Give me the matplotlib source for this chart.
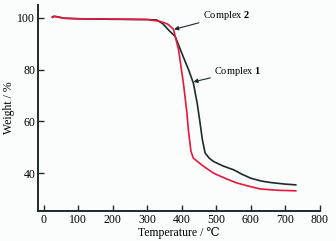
import matplotlib
matplotlib.use("Agg")
from matplotlib import pyplot as plt

# TG curves (temperature in degC, weight in %)
temp_1 = [25, 30, 60, 100, 200, 300, 328, 345, 366, 381, 400, 420, 434, 445, 452, 460, 468, 480, 493, 520, 551, 575, 600, 630, 658, 700, 731]
weight_1 = [100.4, 100.7, 99.9, 99.7, 99.5, 99.4, 99.2, 97.8, 94.8, 92.9, 86.5, 80.0, 74.8, 67.0, 60.7, 53.0, 47.8, 45.8, 44.5, 42.8, 41.3, 39.6, 38.1, 37.0, 36.4, 35.8, 35.5]
temp_2 = [25, 30, 60, 100, 200, 300, 337, 360, 376, 391, 405, 415, 420, 427, 434, 460, 493, 530, 561, 600, 629, 680, 731]
weight_2 = [100.2, 100.6, 99.9, 99.7, 99.6, 99.4, 98.7, 97.6, 95.7, 87.7, 74.8, 63.5, 56.0, 48.4, 45.8, 43.0, 40.0, 37.8, 36.2, 34.8, 33.9, 33.4, 33.2]

x_ticks = [0, 100, 200, 300, 400, 500, 600, 700, 800]
y_ticks = [40, 60, 80, 100]

plt.rcParams.update({"font.family": ["Liberation Serif", "DejaVu Serif"], "font.size": 8.5,
                     "mathtext.fontset": "custom", "mathtext.bf": "Liberation Serif:bold"})

fig, ax = plt.subplots(figsize=(3.36, 2.41), dpi=100)
fig.patch.set_facecolor("#fbfcfc")
ax.set_facecolor("#fbfcfc")
plt.subplots_adjust(left=0.113, right=0.951, top=0.979, bottom=0.1245)

ax.plot(temp_1, weight_1, color="#1c2b2b", lw=1.2)
ax.plot(temp_2, weight_2, color="#e8173c", lw=1.2)

ax.annotate(r"Complex $\mathbf{2}$", xy=(378, 95.6), xytext=(462, 101.0),
            va="center", ha="left", fontsize=7.5,
            arrowprops=dict(arrowstyle="-|>", color="#1c2b2b", lw=0.8, mutation_scale=6,
                            shrinkA=1, shrinkB=0))
ax.annotate(r"Complex $\mathbf{1}$", xy=(434, 75.3), xytext=(495, 79.4),
            va="center", ha="left", fontsize=7.5,
            arrowprops=dict(arrowstyle="-|>", color="#1c2b2b", lw=0.8, mutation_scale=6,
                            shrinkA=1, shrinkB=0))

ax.set_xlim(-17, 800)
ax.set_ylim(25.4, 105)
ax.set_xticks(x_ticks)
ax.set_yticks(y_ticks)
ax.tick_params(direction="in", length=4, width=1, pad=2, color="#1c2b2b")
for side in ["top", "right"]:
    ax.spines[side].set_visible(False)
for side in ["left", "bottom"]:
    ax.spines[side].set_linewidth(1.4)
    ax.spines[side].set_color("#1c2b2b")

ax.set_xlabel("Temperature / \u2103", labelpad=1)
ax.set_ylabel("Weight / %", labelpad=2)

plt.savefig("out.png", dpi=100)
